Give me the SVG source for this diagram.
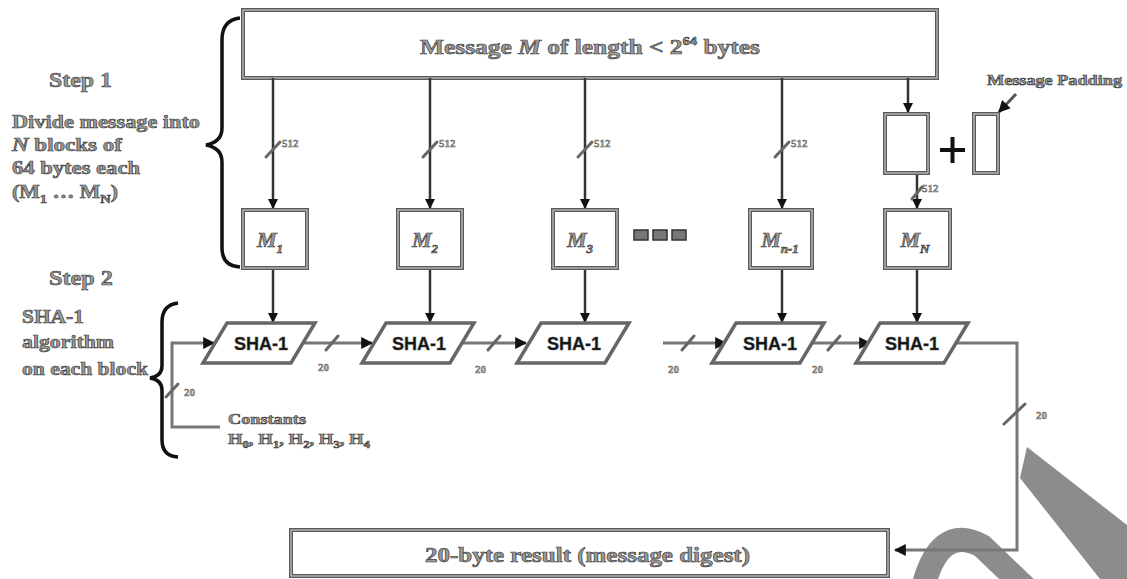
<svg xmlns="http://www.w3.org/2000/svg" width="1127" height="579" viewBox="0 0 1127 579">
<style>
.box{fill:#fff;stroke:#5a5a5a;stroke-width:4}
.boxin{fill:none;stroke:#c8c8c8;stroke-width:1.2}
.ser{font-family:"Liberation Serif",serif;font-weight:bold;fill:#9a9a9a;stroke:#3a3a3a;stroke-width:0.6}
.lbl{font-family:"Liberation Serif",serif;font-weight:bold;fill:#a0a0a0;stroke:#555;stroke-width:0.4;font-size:11px}
.sha{font-family:"Liberation Sans",sans-serif;font-weight:bold;font-size:18px;fill:#111;stroke:#555;stroke-width:0.5}
.vl{stroke:#333;stroke-width:2.5;fill:none}
.hl{stroke:#777;stroke-width:3;fill:none}
.slash{stroke:#666;stroke-width:3;stroke-linecap:round}
.brace{fill:none;stroke:#111;stroke-width:3.5}
.para{fill:#fff;stroke:#666;stroke-width:3.5}
.m{font-family:"Liberation Serif",serif;font-weight:bold;font-style:italic;font-size:22px;fill:#999;stroke:#333;stroke-width:0.6}
</style>
<defs>
<marker id="ah" viewBox="0 0 10 10" refX="9" refY="5" markerWidth="4" markerHeight="4" orient="auto" markerUnits="strokeWidth">
<path d="M0,0 L10,5 L0,10 z" fill="#111"/>
</marker>
</defs>

<!-- watermark -->
<g id="watermark">
<path d="M1027,447 L1127,525 L1127,579 L1100,579 L1020,478 Z" fill="#8c8c8c"/>
<path d="M922,592 Q938,522 982,546 L1030,592" fill="none" stroke="#8c8c8c" stroke-width="24"/>
</g>

<g id="top-message">
<rect class="box" x="243" y="10" width="694" height="68"/>
<rect class="boxin" x="243" y="10" width="694" height="68"/>
<text class="ser" x="420" y="54" font-size="21" textLength="340" lengthAdjust="spacingAndGlyphs">Message <tspan font-style="italic">M</tspan> of length &lt; 2<tspan font-size="12" dy="-9">64</tspan><tspan dy="9"> bytes</tspan></text>
</g>

<g id="step1-text">
<text class="ser" x="49" y="87" font-size="21" textLength="63" lengthAdjust="spacingAndGlyphs">Step 1</text>
<text class="ser" x="12" y="128" font-size="18" textLength="188" lengthAdjust="spacingAndGlyphs">Divide message into</text>
<text class="ser" x="12" y="151" font-size="18" textLength="110" lengthAdjust="spacingAndGlyphs"><tspan font-style="italic">N</tspan> blocks of</text>
<text class="ser" x="12" y="174" font-size="18" textLength="128" lengthAdjust="spacingAndGlyphs">64 bytes each</text>
<text class="ser" x="12" y="198" font-size="18" textLength="106" lengthAdjust="spacingAndGlyphs">(M<tspan font-size="12" dy="5">1</tspan><tspan dy="-5"> … M</tspan><tspan font-size="12" dy="5">N</tspan><tspan dy="-5">)</tspan></text>
</g>
<g id="brace1">
<path class="brace" d="M240,18 Q222,20 222,40 L222,128 Q222,142 206,145 Q222,148 222,162 L222,248 Q222,266 240,267"/>
</g>

<g id="step2-text">
<text class="ser" x="49" y="285" font-size="21" textLength="64" lengthAdjust="spacingAndGlyphs">Step 2</text>
<text class="ser" x="22" y="323" font-size="18" textLength="62" lengthAdjust="spacingAndGlyphs">SHA-1</text>
<text class="ser" x="22" y="348" font-size="18" textLength="92" lengthAdjust="spacingAndGlyphs">algorithm</text>
<text class="ser" x="22" y="375" font-size="18" textLength="126" lengthAdjust="spacingAndGlyphs">on each block</text>
</g>
<g id="brace2">
<path class="brace" d="M178,303 Q162,305 162,322 L162,366 Q162,376 150,378 Q162,380 162,390 L162,440 Q162,456 178,457"/>
</g>

<g id="connectors">
<line class="vl" x1="273" y1="78" x2="273" y2="208" marker-end="url(#ah)"/>
<line class="vl" x1="430" y1="78" x2="430" y2="208" marker-end="url(#ah)"/>
<line class="vl" x1="585" y1="78" x2="585" y2="208" marker-end="url(#ah)"/>
<line class="vl" x1="782" y1="78" x2="782" y2="208" marker-end="url(#ah)"/>
<line class="vl" x1="908" y1="78" x2="908" y2="112" marker-end="url(#ah)"/>
<line class="vl" x1="917" y1="173" x2="917" y2="208" marker-end="url(#ah)"/>
<line class="vl" x1="273" y1="270" x2="273" y2="322" marker-end="url(#ah)"/>
<line class="vl" x1="430" y1="270" x2="430" y2="322" marker-end="url(#ah)"/>
<line class="vl" x1="585" y1="270" x2="585" y2="322" marker-end="url(#ah)"/>
<line class="vl" x1="782" y1="270" x2="782" y2="322" marker-end="url(#ah)"/>
<line class="vl" x1="917" y1="270" x2="917" y2="322" marker-end="url(#ah)"/>
<line class="slash" x1="266" y1="157" x2="280" y2="142"/>
<line class="slash" x1="423" y1="157" x2="437" y2="142"/>
<line class="slash" x1="578" y1="157" x2="592" y2="142"/>
<line class="slash" x1="775" y1="157" x2="789" y2="142"/>
<line class="slash" x1="912" y1="199" x2="922" y2="187"/>
<text class="lbl" x="282" y="147">512</text>
<text class="lbl" x="439" y="147">512</text>
<text class="lbl" x="594" y="147">512</text>
<text class="lbl" x="791" y="147">512</text>
<text class="lbl" x="922" y="192" font-size="10">512</text>
<line x1="1016" y1="94" x2="999" y2="112" stroke="#555" stroke-width="3" marker-end="url(#ah)"/>
<path class="hl" d="M220,427 H172 V343 H214" marker-end="url(#ah)"/>
<line class="slash" x1="166" y1="397" x2="178" y2="384"/>
<text class="lbl" x="184" y="396">20</text>
<line class="hl" x1="302" y1="343" x2="372" y2="343" marker-end="url(#ah)"/>
<line class="slash" x1="326" y1="350" x2="338" y2="336"/>
<text class="lbl" x="318" y="371">20</text>
<line class="hl" x1="460" y1="343" x2="526" y2="343" marker-end="url(#ah)"/>
<line class="slash" x1="488" y1="350" x2="500" y2="336"/>
<text class="lbl" x="475" y="373">20</text>
<line class="hl" x1="663" y1="343" x2="726" y2="343" marker-end="url(#ah)"/>
<line class="slash" x1="682" y1="350" x2="694" y2="336"/>
<text class="lbl" x="668" y="373">20</text>
<line class="hl" x1="812" y1="343" x2="870" y2="343" marker-end="url(#ah)"/>
<line class="slash" x1="828" y1="350" x2="840" y2="336"/>
<text class="lbl" x="812" y="373">20</text>
<path class="hl" d="M956,343 H1017 V550 H895" marker-end="url(#ah)"/>
<line class="slash" x1="1004" y1="424" x2="1025" y2="404"/>
<text class="lbl" x="1036" y="419">20</text>
</g>

<g id="constants">
<text class="ser" x="228" y="424" font-size="15" textLength="78" lengthAdjust="spacingAndGlyphs">Constants</text>
<text class="ser" x="228" y="444" font-size="15" textLength="142" lengthAdjust="spacingAndGlyphs">H<tspan font-size="10" dy="4">0</tspan><tspan dy="-4">, H</tspan><tspan font-size="10" dy="4">1</tspan><tspan dy="-4">, H</tspan><tspan font-size="10" dy="4">2</tspan><tspan dy="-4">, H</tspan><tspan font-size="10" dy="4">3</tspan><tspan dy="-4">, H</tspan><tspan font-size="10" dy="4">4</tspan></text>
</g>

<g id="block-M1"><rect class="box" x="243" y="210" width="64" height="58"/><rect class="boxin" x="243" y="210" width="64" height="58"/><text class="m" x="270" y="247" text-anchor="middle">M<tspan font-size="13" dy="6">1</tspan></text></g>
<g id="block-M2"><rect class="box" x="398" y="210" width="64" height="58"/><rect class="boxin" x="398" y="210" width="64" height="58"/><text class="m" x="425" y="247" text-anchor="middle">M<tspan font-size="13" dy="6">2</tspan></text></g>
<g id="block-M3"><rect class="box" x="553" y="210" width="64" height="58"/><rect class="boxin" x="553" y="210" width="64" height="58"/><text class="m" x="580" y="247" text-anchor="middle">M<tspan font-size="13" dy="6">3</tspan></text></g>
<g id="dots">
<rect x="634" y="230" width="14" height="10" fill="#777" stroke="#333" stroke-width="1.5"/>
<rect x="653" y="230" width="14" height="10" fill="#777" stroke="#333" stroke-width="1.5"/>
<rect x="672" y="230" width="14" height="10" fill="#777" stroke="#333" stroke-width="1.5"/>
</g>
<g id="block-Mn-1"><rect class="box" x="750" y="210" width="62" height="58"/><rect class="boxin" x="750" y="210" width="62" height="58"/><text class="m" x="780" y="247" text-anchor="middle">M<tspan font-size="13" dy="6">n-1</tspan></text></g>
<g id="block-MN"><rect class="box" x="885" y="210" width="65" height="58"/><rect class="boxin" x="885" y="210" width="65" height="58"/><text class="m" x="915" y="247" text-anchor="middle">M<tspan font-size="13" dy="6">N</tspan></text></g>

<g id="padding">
<rect class="box" x="885" y="114" width="43" height="59"/><rect class="boxin" x="885" y="114" width="43" height="59"/>
<path d="M940,150 H965 M952.5,137 V163" stroke="#111" stroke-width="4"/>
<rect class="box" x="974" y="114" width="24" height="59"/><rect class="boxin" x="974" y="114" width="24" height="59"/>
<text class="ser" x="987" y="85" font-size="14" textLength="135" lengthAdjust="spacingAndGlyphs">Message Padding</text>
</g>

<g id="sha1-1"><polygon class="para" points="227,323 315,323 291,363 203,363"/><text class="sha" x="261" y="350" text-anchor="middle">SHA-1</text></g>
<g id="sha1-2"><polygon class="para" points="386,323 474,323 450,363 362,363"/><text class="sha" x="419" y="350" text-anchor="middle">SHA-1</text></g>
<g id="sha1-3"><polygon class="para" points="541,323 629,323 605,363 517,363"/><text class="sha" x="574" y="350" text-anchor="middle">SHA-1</text></g>
<g id="sha1-4"><polygon class="para" points="736,323 824,323 800,363 712,363"/><text class="sha" x="770" y="350" text-anchor="middle">SHA-1</text></g>
<g id="sha1-5"><polygon class="para" points="880,323 968,323 944,363 856,363"/><text class="sha" x="912" y="350" text-anchor="middle">SHA-1</text></g>

<g id="result">
<rect class="box" x="291" y="530" width="597" height="46"/><rect class="boxin" x="291" y="530" width="597" height="46"/>
<text class="ser" x="425" y="562" font-size="20" textLength="325" lengthAdjust="spacingAndGlyphs">20-byte result (message digest)</text>
</g>
</svg>
